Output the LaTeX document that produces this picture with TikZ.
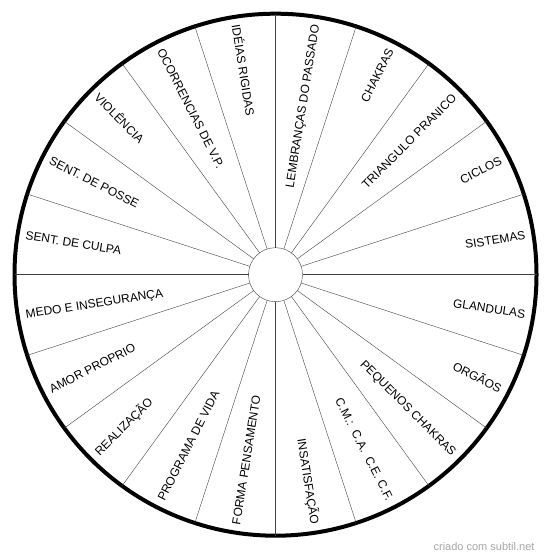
\documentclass[tikz,border=0pt]{standalone}
\usepackage{fontspec}
\setmainfont{Liberation Sans}
\usepackage{tikz}
\usetikzlibrary{positioning}

\begin{document}
\begin{tikzpicture}[x=1pt, y=1pt, thin,
    font=\fontsize{12}{14}\selectfont,
    spoke/.style={draw=black!75},
    sector/.style={inner sep=0pt, text height=8.6pt, text depth=0pt}]
    \useasboundingbox (0,0) rectangle (550,559);

    \node[circle, draw, line width=4pt, minimum size=522pt, outer sep=0pt] (rim) at (275.5,284.3) {};
    \node[circle, draw=black!75, fill=white, minimum size=54pt, outer sep=0pt] (hub) at (rim.center) {};

    \foreach \a in {0,18,...,342}
        \draw[spoke] (hub.\a) -- (rim.\a);

    \foreach \a/\t [count=\i] in {9/SISTEMAS, 27/CICLOS, 45/TRIANGULO PRANICO, 63/CHAKRAS,
        81/LEMBRANÇAS DO PASSADO, 279/INSATISFAÇÃO, 297/C.M.:\ \ C.A.\ \ C.E. C.F.,
        315/PEQUENOS CHAKRAS, 333/ORGÃOS, 351/GLANDULAS}
        \node[sector, anchor=east, rotate=\a] (right\i) at ([shift={(\a:253)}]rim.center) {\t};

    \foreach \a/\t [count=\i] in {99/IDÉIAS RIGIDAS, 117/OCORRENCIAS DE V.P., 135/VIOLÊNCIA,
        153/SENT. DE POSSE, 171/SENT. DE CULPA, 189/MEDO E INSEGURANÇA, 207/AMOR PROPRIO,
        225/REALIZAÇÃO, 243/PROGRAMA DE VIDA, 261/FORMA PENSAMENTO}
        \node[sector, anchor=west, rotate=\a-180] (left\i) at ([shift={(\a:253)}]rim.center) {\t};

    \node[anchor=east, text=black!35, font=\fontsize{11}{13}\selectfont] (credit) at (538,12) {criado com subtil.net};
\end{tikzpicture}
\end{document}
